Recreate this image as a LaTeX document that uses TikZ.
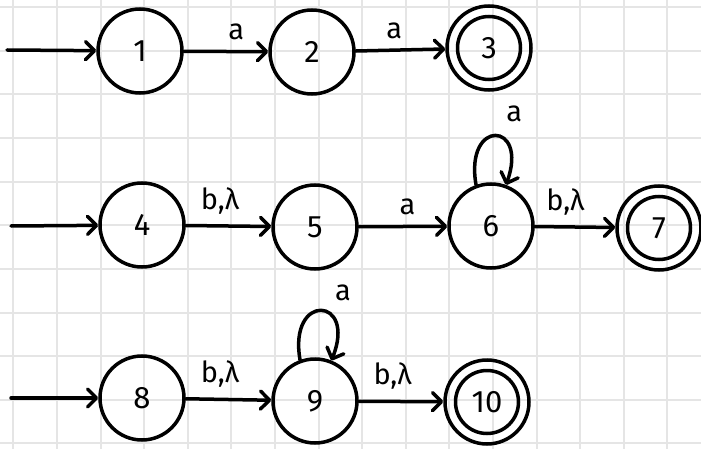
\documentclass[tikz,border=0pt]{standalone}
\usepackage{fontspec}
\setmainfont{Fira Sans}
\usetikzlibrary{arrows.meta}
\begin{document}
\begin{tikzpicture}[x=1pt,y=-1pt,
  state/.style={circle,draw,line width=3.5pt,minimum size=84pt,inner sep=0pt,font=\fontsize{31}{33}\selectfont},
  accept/.style={state,path picture={\draw[line width=3.5pt] (path picture bounding box.center) circle[radius=31.5pt];}},
  trans/.style={line width=3.5pt,line cap=round,-{Straight Barb[length=9pt,width=18pt,round]}},
  lbl/.style={font=\fontsize{29}{31}\selectfont,inner sep=1pt,anchor=south,yshift=9pt},
  gridline/.style={draw=black!10,line width=2pt}]
\useasboundingbox (0,0) rectangle (701,449);
\fill[white] (0,0) rectangle (701,449);
\foreach \i in {0,...,15} \draw[gridline] ({13.3+43.6*\i},0) -- ({13.3+43.6*\i},449);
\foreach \j in {0,...,10} \draw[gridline] (0,{7.3+43.6*\j}) -- (701,{7.3+43.6*\j});

\node[state]  (n1)  at (140,51)  {1};
\node[state]  (n2)  at (312,52)  {2};
\node[accept] (n3)  at (489,48)  {3};
\node[state]  (n4)  at (142,225) {4};
\node[state]  (n5)  at (315,227) {5};
\node[state]  (n6)  at (491,226) {6};
\node[accept] (n7)  at (659,228) {7};
\node[state]  (n8)  at (142,398) {8};
\node[state]  (n9)  at (315,401) {9};
\node[accept] (n10) at (487,402) {10};

\coordinate (s1) at (7,50);
\coordinate (s4) at (11,226);
\coordinate (s8) at (11,398);

\draw[trans] (s1) -- (n1);
\draw[trans] (s4) -- (n4);
\draw[trans] (s8) -- (n8);

\draw[trans] (n1) -- node[lbl,pos=0.62] {a} (n2);
\draw[trans] (n2) -- node[lbl,pos=0.43] {a} (n3);
\draw[trans] (n4) -- node[lbl,pos=0.4] {b,λ} (n5);
\draw[trans] (n5) -- node[lbl,pos=0.55] {a} (n6);
\draw[trans] (n6) -- node[lbl,pos=0.38] {b,λ} (n7);
\draw[trans] (n8) -- node[lbl,pos=0.4] {b,λ} (n9);
\draw[trans] (n9) -- node[lbl,pos=0.4] {b,λ} (n10);

\draw[trans] (n6.110) .. controls +(100:68pt) and +(70:68pt) .. node[lbl,pos=0.5,xshift=19pt,yshift=2pt] {a} (n6.70);
\draw[trans] (n9.110) .. controls +(100:69pt) and +(68:69pt) .. node[lbl,pos=0.5,xshift=22pt,yshift=-2pt] {a} (n9.68);
\end{tikzpicture}
\end{document}
